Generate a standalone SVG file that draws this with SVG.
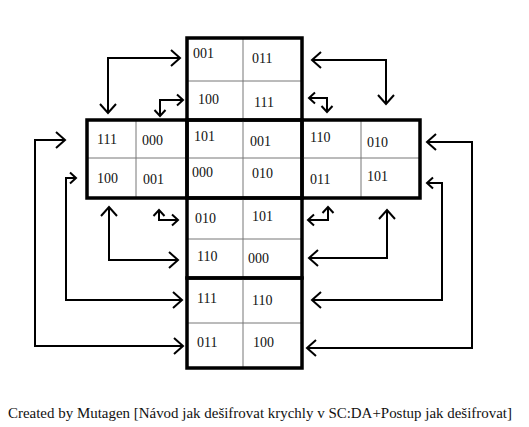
<svg xmlns="http://www.w3.org/2000/svg" width="529" height="427" viewBox="0 0 529 427">
<style>
.frame{fill:none;stroke:#000;stroke-width:3.5}
.thin{stroke:#777;stroke-width:1;fill:none}
.lbl{font-family:"Liberation Serif","Times New Roman",serif;font-size:14px;fill:#111}
.con{fill:none;stroke:#000;stroke-width:2}
.foot{font-family:"Liberation Serif","Times New Roman",serif;font-size:14.5px;fill:#111}
</style>
<defs>
<marker id="big" markerUnits="userSpaceOnUse" viewBox="-12 -10 14 20" refX="0" refY="0" markerWidth="14" markerHeight="20" orient="auto-start-reverse">
<path d="M-9,-8 L0,0 L-9,8" fill="none" stroke="#000" stroke-width="2"/>
</marker>
<marker id="small" markerUnits="userSpaceOnUse" viewBox="-10 -8 12 16" refX="0" refY="0" markerWidth="12" markerHeight="16" orient="auto-start-reverse">
<path d="M-6,-5.5 L0,0 L-6,5.5" fill="none" stroke="#000" stroke-width="2"/>
</marker>
</defs>
<rect width="529" height="427" fill="#fff"/>

<g id="face-top">
<line class="thin" x1="243" y1="38" x2="243" y2="120"/>
<line class="thin" x1="187" y1="81" x2="302" y2="81"/>
<rect class="frame" x="187" y="38" width="115" height="82"/>
<text class="lbl" x="193" y="58">001</text>
<text class="lbl" x="252" y="63">011</text>
<text class="lbl" x="198" y="104">100</text>
<text class="lbl" x="254" y="107">111</text>
</g>

<g id="face-left">
<line class="thin" x1="136" y1="120" x2="136" y2="198"/>
<line class="thin" x1="87" y1="158" x2="187" y2="158"/>
<rect class="frame" x="87" y="120" width="100" height="78"/>
<text class="lbl" x="97" y="144">111</text>
<text class="lbl" x="142" y="145">000</text>
<text class="lbl" x="97" y="183">100</text>
<text class="lbl" x="143" y="184">001</text>
</g>

<g id="face-center">
<line class="thin" x1="243" y1="120" x2="243" y2="198"/>
<line class="thin" x1="187" y1="158" x2="302" y2="158"/>
<rect class="frame" x="187" y="120" width="115" height="78"/>
<text class="lbl" x="194" y="141">101</text>
<text class="lbl" x="250" y="146">001</text>
<text class="lbl" x="192" y="177">000</text>
<text class="lbl" x="252" y="178">010</text>
</g>

<g id="face-right">
<line class="thin" x1="361" y1="120" x2="361" y2="198"/>
<line class="thin" x1="302" y1="158" x2="420" y2="158"/>
<rect class="frame" x="302" y="120" width="118" height="78"/>
<text class="lbl" x="310" y="142">110</text>
<text class="lbl" x="367" y="147">010</text>
<text class="lbl" x="310" y="184">011</text>
<text class="lbl" x="367" y="181">101</text>
</g>

<g id="face-bottom1">
<line class="thin" x1="243" y1="198" x2="243" y2="278"/>
<line class="thin" x1="187" y1="239" x2="302" y2="239"/>
<rect class="frame" x="187" y="198" width="115" height="80"/>
<text class="lbl" x="195" y="223">010</text>
<text class="lbl" x="252" y="221">101</text>
<text class="lbl" x="197" y="261">110</text>
<text class="lbl" x="248" y="263">000</text>
</g>

<g id="face-bottom2">
<line class="thin" x1="243" y1="278" x2="243" y2="368"/>
<line class="thin" x1="187" y1="323" x2="302" y2="323"/>
<rect class="frame" x="187" y="278" width="115" height="90"/>
<text class="lbl" x="197" y="303">111</text>
<text class="lbl" x="252" y="305">110</text>
<text class="lbl" x="197" y="347">011</text>
<text class="lbl" x="253" y="347">100</text>
</g>

<g id="connectors">
<path class="con" d="M180,58 H108 V113" marker-start="url(#big)" marker-end="url(#big)"/>
<path class="con" d="M183,100 H160 V116" marker-start="url(#small)" marker-end="url(#small)"/>
<path class="con" d="M312,60 H386 V104" marker-start="url(#big)" marker-end="url(#big)"/>
<path class="con" d="M309,98 H327 V112" marker-start="url(#small)" marker-end="url(#small)"/>
<path class="con" d="M109,207 V260 H178" marker-start="url(#big)" marker-end="url(#big)"/>
<path class="con" d="M159,210 V220 H178" marker-start="url(#small)" marker-end="url(#small)"/>
<path class="con" d="M308,220 H328 V207" marker-start="url(#small)" marker-end="url(#small)"/>
<path class="con" d="M309,258 H387 V210" marker-start="url(#big)" marker-end="url(#big)"/>
<path class="con" d="M65,140 H35 V346 H183" marker-start="url(#big)" marker-end="url(#big)"/>
<path class="con" d="M76,178 H66 V300 H182" marker-start="url(#small)" marker-end="url(#big)"/>
<path class="con" d="M427,142 H472 V348 H307" marker-start="url(#big)" marker-end="url(#big)"/>
<path class="con" d="M427,183 H442 V300 H312" marker-start="url(#small)" marker-end="url(#big)"/>
</g>

<text class="foot" x="8" y="418" textLength="504" lengthAdjust="spacingAndGlyphs">Created by Mutagen [Návod jak dešifrovat krychly v SC:DA+Postup jak dešifrovat]</text>
</svg>
